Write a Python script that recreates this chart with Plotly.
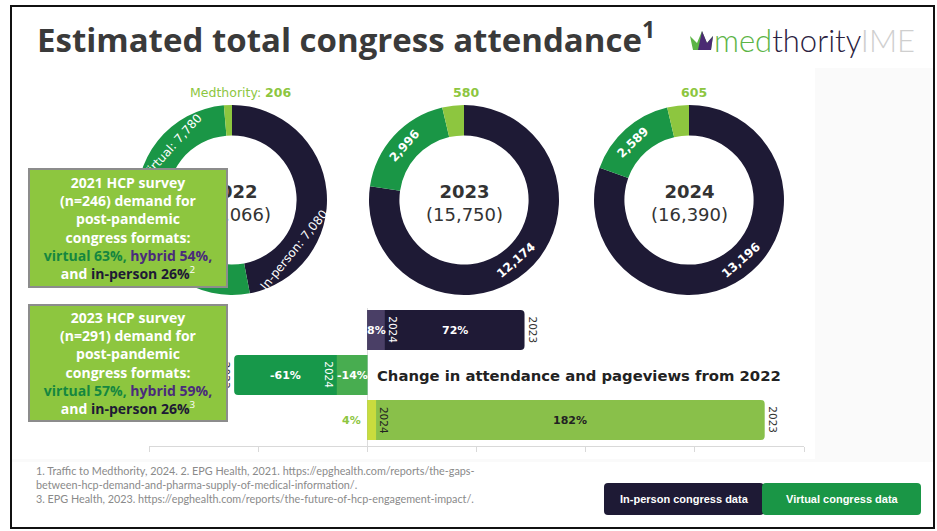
import math
import plotly.graph_objects as go

W, H = 937, 531

# ---- congress attendance per year (donuts) ----
years = ["2022", "2023", "2024"]
in_person = [7080, 12174, 13196]
virtual = [7780, 2996, 2589]
medthority = [206, 580, 605]
segment_names = ["In-person", "Virtual", "Medthority"]
segment_colors = ["#1e1a35", "#1a9646", "#8dc63f"]

# ---- change from 2022 (%) ----
rows = ["Medthority pageviews", "Virtual", "In-person"]   # bottom -> top
change_2023 = [182, -61, 72]
change_2024 = [4, -14, 8]
colors_2023 = ["#89c04a", "#17984a", "#1f1a36"]
colors_2024 = ["#c9dc3e", "#48ad50", "#4a3f66"]
value_text_colors = ["#222222", "white", "white"]
year_text_2024 = ["#222222", "white", "white"]

# survey call-outs
survey_2021 = ["2021", "246", "63%", "54%", "26%", "2"]
survey_2023 = ["2023", "291", "57%", "59%", "26%", "3"]

footnotes = [
    "1. Traffic to Medthority, 2024. 2. EPG Health, 2021. https://epghealth.com/reports/the-gaps-",
    "between-hcp-demand-and-pharma-supply-of-medical-information/.",
    "3. EPG Health, 2023. https://epghealth.com/reports/the-future-of-hcp-engagement-impact/.",
]


def px(x):
    return x / W


def py(y):
    return 1 - y / H


def rrect(x0, y0, x1, y1, r):
    """Rounded rectangle path in paper coordinates from pixel corners."""
    pts = [
        f"M {px(x0 + r)} {py(y0)}",
        f"L {px(x1 - r)} {py(y0)}",
        f"Q {px(x1)} {py(y0)} {px(x1)} {py(y0 + r)}",
        f"L {px(x1)} {py(y1 - r)}",
        f"Q {px(x1)} {py(y1)} {px(x1 - r)} {py(y1)}",
        f"L {px(x0 + r)} {py(y1)}",
        f"Q {px(x0)} {py(y1)} {px(x0)} {py(y1 - r)}",
        f"L {px(x0)} {py(y0 + r)}",
        f"Q {px(x0)} {py(y0)} {px(x0 + r)} {py(y0)}",
        "Z",
    ]
    return " ".join(pts)


def poly(points):
    return "M " + " L ".join(f"{px(x)} {py(y)}" for x, y in points) + " Z"


fig = go.Figure()
shapes = []
ann = []

# ---- background panels ----
shapes.append(dict(type="rect", xref="paper", yref="paper", layer="below",
                   x0=px(12), x1=px(933), y0=py(462), y1=py(68),
                   fillcolor="#fafafa", line_width=0))
shapes.append(dict(type="rect", xref="paper", yref="paper", layer="below",
                   x0=px(12), x1=px(815), y0=py(459), y1=py(68),
                   fillcolor="#ffffff", line_width=0))

# ---- donuts ----
centers_x = [232, 464, 689]
cy, R = 200, 95
for i, yr in enumerate(years):
    cx = centers_x[i]
    fig.add_trace(go.Pie(
        values=[in_person[i], virtual[i], medthority[i]],
        labels=segment_names,
        marker=dict(colors=segment_colors, line=dict(width=0)),
        hole=0.68, sort=False, direction="clockwise", rotation=0,
        textinfo="none", hoverinfo="label+value", showlegend=False,
        domain=dict(x=[px(cx - R), px(cx + R)], y=[py(cy + R), py(cy - R)]),
    ))
    total = in_person[i] + virtual[i] + medthority[i]
    ann.append(dict(xref="paper", yref="paper", x=px(cx), y=py(cy + 3),
                    text=f"<b>{yr}</b><br>({total:,})", showarrow=False,
                    font=dict(family="DejaVu Sans", size=18, color="#333333"),
                    xanchor="center", yanchor="middle"))


def ring_label(cx, bearing, r, text, bold=True):
    b = math.radians(bearing)
    x = cx + r * math.sin(b)
    y = cy - r * math.cos(b)
    angle = bearing - 180 if bearing < 270 else bearing - 360
    t = f"<b>{text}</b>" if bold else text
    return dict(xref="paper", yref="paper", x=px(x), y=py(y), text=t,
                showarrow=False, textangle=angle,
                font=dict(family="DejaVu Sans", size=12, color="white"),
                xanchor="center", yanchor="middle")


# ring labels
ann.append(ring_label(centers_x[0], 312, 80, f"Virtual: {virtual[0]:,}", bold=False))
ann.append(ring_label(centers_x[0], 129, 80, f"In-person: {in_person[0]:,}", bold=False))
ann.append(ring_label(centers_x[1], 312, 80, f"{virtual[1]:,}"))
ann.append(ring_label(centers_x[1], 139, 80, f"{in_person[1]:,}"))
ann.append(ring_label(centers_x[2], 316, 80, f"{virtual[2]:,}"))
ann.append(ring_label(centers_x[2], 139, 80, f"{in_person[2]:,}"))

# Medthority labels above each ring
med_label_x = [240, 466, 694]
for i in range(3):
    txt = f"<b>{medthority[i]:,}</b>" if i else f"Medthority: <b>{medthority[i]:,}</b>"
    ann.append(dict(xref="paper", yref="paper", x=px(med_label_x[i]), y=py(92),
                    text=txt, showarrow=False,
                    font=dict(family="DejaVu Sans", size=12.5, color="#8dc63f"),
                    xanchor="center", yanchor="middle"))

# ---- change bars ----
fig.add_trace(go.Bar(y=rows, x=change_2023, orientation="h", width=0.89,
                     marker=dict(color=colors_2023, line_width=0),
                     name="2023", showlegend=False, hoverinfo="x+y"))
fig.add_trace(go.Bar(y=rows, x=change_2024, orientation="h", width=0.89,
                     marker=dict(color=colors_2024, line_width=0),
                     name="2024", showlegend=False, hoverinfo="x+y"))

X0, X1 = 149, 804          # pixel extent of the -100..200 % axis
unit = (X1 - X0) / 300.0
for i, row in enumerate(rows):
    v23, v24 = change_2023[i], change_2024[i]
    sgn = 1 if v23 >= 0 else -1
    # 2023 value label, centred on the part not covered by 2024
    ann.append(dict(xref="x", yref="y", x=(v23 + v24) / 2, y=row,
                    text=f"<b>{v23}%</b>", showarrow=False,
                    font=dict(family="DejaVu Sans", size=11, color=value_text_colors[i]),
                    xanchor="center", yanchor="middle"))
    # 2024 value label: inside if it fits, otherwise just before zero
    if abs(v24) * unit >= 12:
        ann.append(dict(xref="x", yref="y", x=v24 / 2, y=row,
                        text=f"<b>{v24}%</b>", showarrow=False,
                        font=dict(family="DejaVu Sans", size=11, color="white"),
                        xanchor="center", yanchor="middle"))
    else:
        ann.append(dict(xref="x", yref="y", x=0, y=row, xshift=-4,
                        text=f"<b>{v24}%</b>", showarrow=False,
                        font=dict(family="DejaVu Sans", size=11, color="#8dc63f"),
                        xanchor="right", yanchor="middle"))
    # year tags beyond each bar end
    ann.append(dict(xref="x", yref="y", x=v24, y=row, xshift=sgn * 8,
                    text="2024", showarrow=False, textangle=90,
                    font=dict(family="DejaVu Sans", size=10.5, color=year_text_2024[i]),
                    xanchor="center", yanchor="middle"))
    ann.append(dict(xref="x", yref="y", x=v23, y=row, xshift=sgn * 8,
                    text="2023", showarrow=False, textangle=90,
                    font=dict(family="DejaVu Sans", size=10.5, color="#333333"),
                    xanchor="center", yanchor="middle"))

ann.append(dict(xref="x", yref="y", x=0, y=rows[1], xshift=8,
                text="<b>Change in attendance and pageviews from 2022</b>",
                showarrow=False, xanchor="left", yanchor="middle",
                font=dict(family="DejaVu Sans", size=14.8, color="#222222")))


# ---- survey call-outs ----
def survey_text(s):
    yr, n, v, h, p, ref = s
    lines = [
        f"<b>{yr} HCP survey</b>",
        f"<b>(n={n}) demand for</b>",
        "<b>post-pandemic</b>",
        "<b>congress formats:</b>",
        f"<b><span style='color:#15873f'>virtual {v},</span> "
        f"<span style='color:#4a2b7c'>hybrid {h},</span></b>",
        f"<b>and <span style='color:#1e1a35'>in-person {p}</span></b><sup>{ref}</sup>",
    ]
    return "<br>".join(lines)


for s, (y0, y1) in ((survey_2021, (168, 288)), (survey_2023, (304, 422))):
    ann.append(dict(xref="paper", yref="paper", x=px(128), y=py((y0 + y1) / 2),
                    text=survey_text(s), showarrow=False,
                    xanchor="center", yanchor="middle", align="center",
                    width=196, height=y1 - y0 - 4, borderpad=0,
                    bgcolor="#8dc63f", bordercolor="#8c8c8c", borderwidth=2,
                    font=dict(family="Open Sans", size=14, color="white")))

# ---- title and logo ----
ann.append(dict(xref="paper", yref="paper", x=px(35), y=py(38),
                text="<b>Estimated total congress attendance<sup>1</sup></b>",
                showarrow=False, xanchor="left", yanchor="middle",
                font=dict(family="Open Sans", size=33, color="#3a3a3a")))
shapes.append(dict(type="path", xref="paper", yref="paper",
                   path=poly([(690, 36), (697, 43), (702, 31), (707, 43), (713, 36),
                              (711, 50), (693, 50)]),
                   fillcolor="#5cb446", line_width=0))
shapes.append(dict(type="path", xref="paper", yref="paper",
                   path=poly([(702, 31), (707, 43), (713, 36), (711, 50), (698, 50)]),
                   fillcolor="#4b2a73", line_width=0))
ann.append(dict(xref="paper", yref="paper", x=px(712), y=py(40),
                text="<span style='color:#5cb446'>med</span>"
                     "<span style='color:#2a2140'>thority</span>"
                     "<span style='color:#cfcfcf'>IME</span>",
                showarrow=False, xanchor="left", yanchor="middle",
                font=dict(family="Lato", size=31, color="#2a2140", weight=300)))

# ---- footnotes ----
ann.append(dict(xref="paper", yref="paper", x=px(34), y=py(462),
                text="<br>".join(footnotes), showarrow=False, align="left",
                xanchor="left", yanchor="top",
                font=dict(family="Lato", size=10.8, color="#8a8a8a")))

# ---- legend buttons ----
shapes.append(dict(type="path", xref="paper", yref="paper",
                   path=rrect(604, 483, 764, 515, 4), fillcolor="#1e1a35", line_width=0))
shapes.append(dict(type="path", xref="paper", yref="paper",
                   path=rrect(762, 483, 921, 515, 4), fillcolor="#1a9646", line_width=0))
ann.append(dict(xref="paper", yref="paper", x=px(684), y=py(499),
                xanchor="center", yanchor="middle",
                text="<b>In-person congress data</b>", showarrow=False,
                font=dict(family="Liberation Sans", size=11, color="white")))
ann.append(dict(xref="paper", yref="paper", x=px(842), y=py(499),
                xanchor="center", yanchor="middle",
                text="<b>Virtual congress data</b>", showarrow=False,
                font=dict(family="Liberation Sans", size=11, color="white")))

# ---- slide frame ----
shapes.append(dict(type="rect", xref="paper", yref="paper",
                   x0=px(11), x1=px(934), y0=py(528), y1=py(6),
                   line=dict(color="#111111", width=2), fillcolor="rgba(0,0,0,0)"))

row_px = 45.0
fig.update_layout(
    width=W, height=H, margin=dict(l=0, r=0, t=0, b=0),
    paper_bgcolor="white", plot_bgcolor="rgba(0,0,0,0)",
    barmode="overlay", barcornerradius=4,
    xaxis=dict(domain=[px(X0), px(X1)], range=[-100, 200], dtick=50,
               showgrid=False, zeroline=True, zerolinecolor="#dddddd", zerolinewidth=1,
               showline=True, linecolor="#d9d9d9", linewidth=1,
               ticks="outside", ticklen=5, tickcolor="#d9d9d9",
               showticklabels=False, fixedrange=True),
    yaxis=dict(domain=[py(446), py(307.5)], range=[-26 / row_px, 2.5],
               type="category", categoryorder="array", categoryarray=rows,
               showgrid=False, zeroline=False, showline=False,
               showticklabels=False, ticks="", fixedrange=True),
    shapes=shapes, annotations=ann, showlegend=False,
)

fig.write_html("out.html")
